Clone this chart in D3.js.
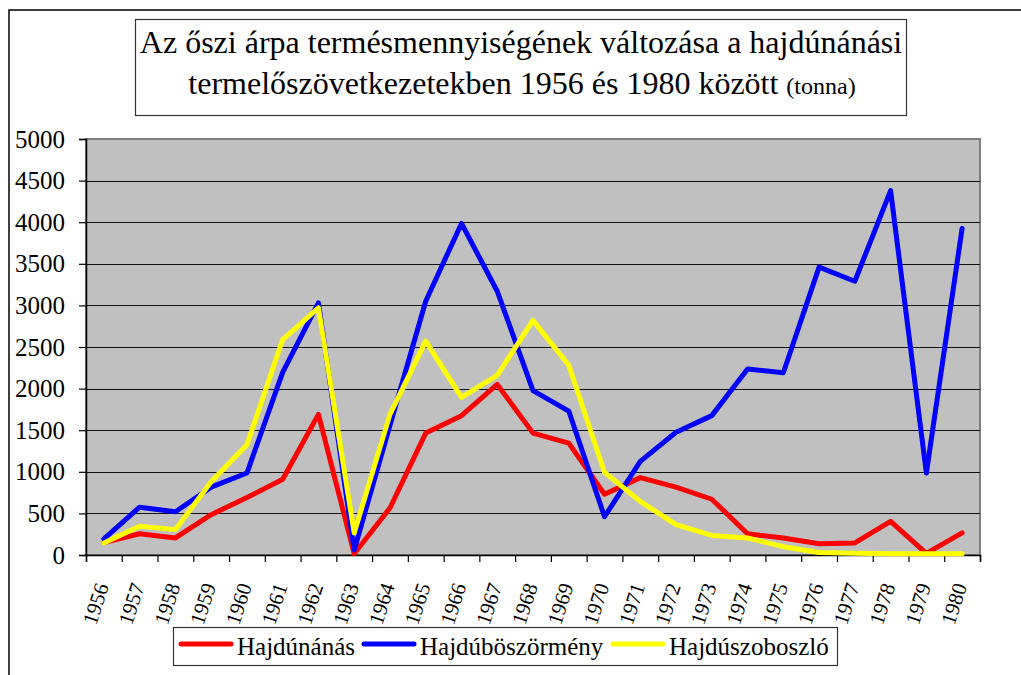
<!DOCTYPE html>
<html lang="hu">
<head>
<meta charset="utf-8">
<title>Az őszi árpa termésmennyiségének változása</title>
<script src="https://cdn.jsdelivr.net/npm/d3@7/dist/d3.min.js"></script>
<style>
  html, body { margin: 0; padding: 0; background: #fff; }
  svg { display: block; }
  svg text { font-family: "Liberation Serif", "Times New Roman", serif; }
</style>
</head>
<body>
<svg id="chart" width="1021" height="675"></svg>
<script>
// Years on the category axis
const years = ["1956","1957","1958","1959","1960","1961","1962","1963","1964","1965",
               "1966","1967","1968","1969","1970","1971","1972","1973","1974","1975",
               "1976","1977","1978","1979","1980"];

// Winter barley harvest per cooperative group (tonnes)
const hajdunanas      = [150, 255, 205, 485, 690, 910, 1690, 15, 565, 1465,
                         1675, 2050, 1465, 1345, 730, 930, 815, 670, 255, 205,
                         135, 145, 405, 20, 265];
const hajduboszormeny = [195, 575, 520, 815, 985, 2195, 3030, 60, 1560, 3050,
                         3985, 3170, 1975, 1730, 460, 1125, 1475, 1675, 2235, 2190,
                         3460, 3290, 4380, 985, 3925];
const hajduszoboszlo  = [145, 345, 305, 880, 1325, 2590, 2970, 265, 1690, 2570,
                         1895, 2160, 2820, 2280, 995, 645, 365, 235, 205, 100,
                         30, 20, 15, 15, 15];

const seriesNames  = ["Hajdúnánás", "Hajdúböszörmény", "Hajdúszoboszló"];
const seriesColors = ["#ff0000", "#0000ff", "#ffff00"];
const seriesValues = [hajdunanas, hajduboszormeny, hajduszoboszlo];

const yTicks = [0, 500, 1000, 1500, 2000, 2500, 3000, 3500, 4000, 4500, 5000];

const titleLine1 = "Az őszi árpa termésmennyiségének változása a hajdúnánási";
const titleLine2 = "termelőszövetkezetekben 1956 és 1980 között";
const titleUnit  = "(tonna)";

const serif = "'Liberation Serif', 'Times New Roman', serif";

// ---- layout ----
const svg = d3.select("#chart");
const plot = { left: 86, right: 980, top: 139, bottom: 555 };

const x = d3.scaleBand().domain(years).range([plot.left, plot.right]).padding(0);
const xEdges = d3.scaleLinear().domain([0, years.length]).range([plot.left, plot.right]);
const y = d3.scaleLinear().domain([0, 5000]).range([plot.bottom, plot.top]);

// outer chart frame (runs past the page on the right and bottom)
svg.append("path")
  .attr("d", `M9,700 L9,10 L1030,10`)
  .attr("fill", "none").attr("stroke", "#000").attr("stroke-width", 1.5);

// title box
svg.append("rect")
  .attr("x", 135.5).attr("y", 19.5).attr("width", 771).attr("height", 96)
  .attr("fill", "#fff").attr("stroke", "#333").attr("stroke-width", 1.2);

const title = svg.append("text").attr("text-anchor", "middle").attr("fill", "#000");
title.append("tspan").attr("x", 521).attr("y", 53).attr("font-size", 32).text(titleLine1);
const t2 = title.append("tspan").attr("x", 522).attr("y", 94);
t2.append("tspan").attr("font-size", 32).text(titleLine2 + " ");
t2.append("tspan").attr("font-size", 24).text(titleUnit);

// plot background
svg.append("rect")
  .attr("x", plot.left).attr("y", plot.top)
  .attr("width", plot.right - plot.left).attr("height", plot.bottom - plot.top)
  .attr("fill", "#c0c0c0").attr("stroke", "#808080").attr("stroke-width", 2);

// horizontal gridlines
svg.append("g")
  .selectAll("line")
  .data(yTicks.filter(d => d > 0 && d < 5000))
  .join("line")
  .attr("x1", plot.left).attr("x2", plot.right)
  .attr("y1", d => Math.round(y(d)) + 0.5).attr("y2", d => Math.round(y(d)) + 0.5)
  .attr("stroke", "#111").attr("stroke-width", 1);

// y axis
const yAxis = svg.append("g")
  .attr("transform", `translate(${plot.left},0)`)
  .call(d3.axisLeft(y).tickValues(yTicks).tickSize(7).tickPadding(14).tickFormat(d3.format("d")));
yAxis.attr("font-family", null);
yAxis.select(".domain").attr("stroke", "#000").attr("stroke-width", 1.5);
yAxis.selectAll(".tick line").attr("stroke", "#000").attr("stroke-width", 1.2);
yAxis.selectAll(".tick text")
  .style("font-family", serif)
  .attr("font-size", 25).attr("fill", "#000");

// x axis: tick marks at category boundaries
const xTickAxis = svg.append("g")
  .attr("transform", `translate(0,${plot.bottom})`)
  .call(d3.axisBottom(xEdges).tickValues(d3.range(years.length + 1)).tickSize(7).tickFormat(""));
xTickAxis.select(".domain").attr("stroke", "#000").attr("stroke-width", 1.5);
xTickAxis.selectAll(".tick line").attr("stroke", "#000").attr("stroke-width", 1.2);

// x axis: rotated year labels at category centres
const xLabelAxis = svg.append("g")
  .attr("transform", `translate(0,${plot.bottom})`)
  .call(d3.axisBottom(x).tickSize(0));
xLabelAxis.attr("font-family", null);
xLabelAxis.select(".domain").remove();
xLabelAxis.selectAll(".tick text")
  .style("font-family", serif)
  .attr("font-size", 21).attr("fill", "#000")
  .attr("x", 0).attr("y", 0).attr("dy", 0)
  .attr("text-anchor", "end")
  .attr("transform", "translate(5,31) rotate(-72)");

// series lines
const line = d3.line()
  .x((d, i) => x(years[i]) + x.bandwidth() / 2)
  .y(d => y(d));

svg.append("g")
  .selectAll("path")
  .data(seriesValues)
  .join("path")
  .attr("d", d => line(d))
  .attr("fill", "none")
  .attr("stroke", (d, i) => seriesColors[i])
  .attr("stroke-width", 5)
  .attr("stroke-linejoin", "round")
  .attr("stroke-linecap", "round");

// legend
const legend = svg.append("g");
legend.append("rect")
  .attr("x", 173.5).attr("y", 627.5).attr("width", 664).attr("height", 38)
  .attr("fill", "#fff").attr("stroke", "#333").attr("stroke-width", 1.2);

const legendX = [181, 364, 613];
const items = legend.selectAll("g.item")
  .data(seriesNames)
  .join("g")
  .attr("class", "item")
  .attr("transform", (d, i) => `translate(${legendX[i]},0)`);
items.append("line")
  .attr("x1", 0).attr("x2", 50).attr("y1", 644).attr("y2", 644)
  .attr("stroke", (d, i) => seriesColors[i])
  .attr("stroke-width", 5).attr("stroke-linecap", "round");
items.append("text")
  .attr("x", 56).attr("y", 655)
  .attr("font-size", 25).attr("fill", "#000")
  .text(d => d);
</script>
</body>
</html>
